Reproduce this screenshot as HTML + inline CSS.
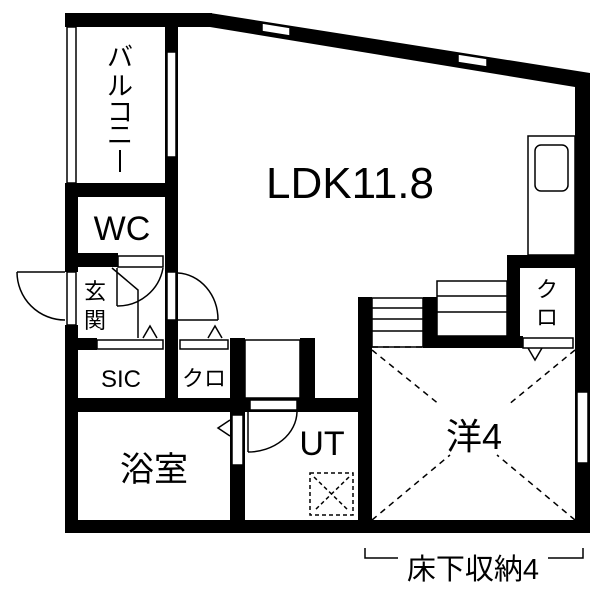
<!DOCTYPE html>
<html><head><meta charset="utf-8"><style>
html,body{margin:0;padding:0;background:#fff;width:600px;height:600px;overflow:hidden}
svg{display:block}
text{font-family:"Liberation Sans","Noto Sans CJK JP",sans-serif;fill:#000}
</style></head><body>
<svg width="600" height="600" viewBox="0 0 600 600" xmlns="http://www.w3.org/2000/svg">
<g fill="#000">
<rect x="65" y="13" width="147" height="14"/>
<polygon points="210,13 590,73 590,87 575,87 210,27"/>
<rect x="575" y="73" width="15" height="460"/>
<rect x="65" y="520" width="525" height="13"/>
<rect x="65" y="183" width="13" height="89"/>
<rect x="65" y="325" width="13" height="208"/>
<rect x="165" y="13" width="13" height="332"/>
<rect x="65" y="183" width="113" height="14"/>
<rect x="65" y="253" width="53" height="14"/>
<rect x="65" y="338" width="32" height="12"/>
<rect x="230" y="338" width="15" height="74"/>
<rect x="165" y="338" width="13" height="74"/>
<rect x="300" y="338" width="15" height="74"/>
<rect x="65" y="398" width="307" height="14"/>
<rect x="230" y="398" width="15" height="135"/>
<rect x="358" y="297" width="14" height="236"/>
<rect x="423" y="297" width="14" height="51"/>
<rect x="423" y="336" width="100" height="12"/>
<rect x="507" y="255" width="13" height="93"/>
<rect x="507" y="255" width="83" height="13"/>
</g>
<g fill="#fff" stroke="#000" stroke-width="1.5">
<rect x="67" y="27" width="9" height="156"/>
<rect x="167" y="52" width="9" height="105"/>
<polygon points="262,23 290,27.5 290,36 262,31.5" />
<polygon points="458,54 487,58.5 487,67 458,62.5"/>
<rect x="577" y="392" width="11" height="71"/>
<rect x="118" y="256" width="45" height="11"/>
<rect x="67" y="272" width="9" height="53"/>
<rect x="167" y="272" width="9" height="48"/>
<rect x="97" y="340" width="66" height="9"/>
<rect x="180" y="340" width="48" height="9"/>
<rect x="250" y="400" width="47" height="10"/>
<rect x="232" y="415" width="11" height="50"/>
<rect x="523" y="338" width="50" height="10"/>
</g>
<g fill="none" stroke="#000" stroke-width="1.5">
<line x1="17" y1="272" x2="65" y2="272"/>
<path d="M17,272 A48,48 0 0 0 65,320"/>
<path d="M112,268 L138,290 L138,338"/>
<line x1="117" y1="268" x2="117" y2="306"/>
<path d="M117,306 A46,46 0 0 0 163,268"/>
<line x1="178" y1="320" x2="218" y2="320"/>
<path d="M178,273 A42,47 0 0 1 218,320"/>
<path d="M143,338 L150,326 L157,338"/>
<path d="M208,338 L215,326 L222,338"/>
<path d="M230,420 L218,428 L230,436"/>
<path d="M528,348 L535,360 L542,348"/>
<line x1="248" y1="412" x2="248" y2="452"/>
<path d="M248,452 A49,41 0 0 0 297,412"/>
<rect x="245" y="340" width="55" height="58"/>
<rect x="372" y="298" width="51" height="49"/>
<line x1="372" y1="308" x2="423" y2="308"/>
<line x1="372" y1="319" x2="423" y2="319"/>
<line x1="372" y1="331" x2="423" y2="331"/>
<rect x="437" y="281" width="70" height="55"/>
<line x1="437" y1="296" x2="507" y2="296"/>
<line x1="437" y1="312" x2="507" y2="312"/>
<rect x="528" y="136" width="47" height="119"/>
<rect x="535" y="145" width="33" height="46" rx="6"/>
<path d="M365,548 L365,558 L398,558"/>
<path d="M548,558 L583,558 L583,548"/>
<line x1="120" y1="150" x2="120" y2="172" stroke-width="2"/>
</g>
<g fill="none" stroke="#000" stroke-width="1.5" stroke-dasharray="6,5">
<line x1="372" y1="347" x2="423" y2="347"/>
<line x1="372" y1="350" x2="440" y2="405"/>
<line x1="575" y1="350" x2="508" y2="405"/>
<line x1="372" y1="520" x2="450" y2="455"/>
<line x1="575" y1="520" x2="497" y2="455"/>
<rect x="310" y="473" width="43" height="42" stroke-dasharray="4,3"/>
<line x1="314" y1="477" x2="349" y2="511" stroke-dasharray="4,3"/>
<line x1="349" y1="477" x2="314" y2="511" stroke-dasharray="4,3"/>
</g>
<g font-size="32" text-anchor="middle">
<text x="120" y="66" font-size="26">バ</text>
<text x="120" y="95" font-size="26">ル</text>
<text x="120" y="121" font-size="26">コ</text>
<text x="120" y="144" font-size="26">ニ</text>
<text x="122" y="240" font-size="34">WC</text>
<text x="95" y="299" font-size="22">玄</text>
<text x="95" y="328" font-size="22">関</text>
<text x="121" y="387" font-size="24">SIC</text>
<text x="204" y="386" font-size="22">クロ</text>
<text x="350" y="198" font-size="44">LDK11.8</text>
<text x="154" y="481" font-size="34">浴室</text>
<text x="322" y="455" font-size="34">UT</text>
<text x="474" y="449" font-size="36">洋4</text>
<text x="547" y="297" font-size="22">ク</text>
<text x="547" y="325" font-size="22">ロ</text>
<text x="473" y="579" font-size="29">床下収納4</text>
</g>
</svg>
</body></html>
